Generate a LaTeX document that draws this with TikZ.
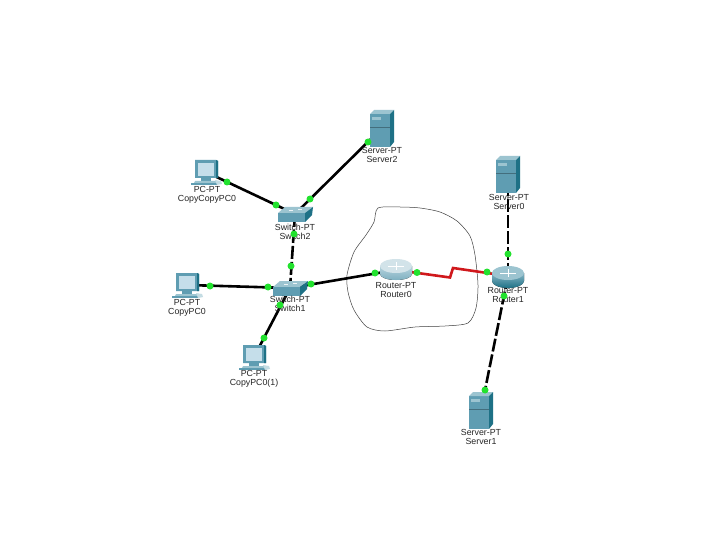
\documentclass[tikz,border=0pt]{standalone}
\usepackage{fontspec}
\setmainfont{Liberation Sans}
\definecolor{tealm}{HTML}{5F9DB2}
\definecolor{teald}{HTML}{1E7186}
\definecolor{teall}{HTML}{9CC4D0}
\definecolor{screenc}{HTML}{C5DEEA}
\definecolor{grn}{HTML}{22E22E}
\definecolor{linkred}{HTML}{D0181C}
\tikzset{
  x=1pt,y=-1pt,
  device/.style={inner sep=0pt,minimum size=1pt},
  lbl/.style={align=center,font=\fontsize{8.8}{9.6}\selectfont,text=black!85,inner sep=0pt},
  link/.style={line width=2.6pt,black},
  dlink/.style={link,dash pattern=on 13pt off 3pt},
  serial/.style={line width=2.6pt,linkred},
  dot/.style={circle,fill=grn,inner sep=0pt,minimum size=7pt},
  cloudline/.style={line width=0.5pt,black!75},
  pcicon/.pic={
    \fill[tealm] (-11,-12) -- (10,-12) -- (12,-11) -- (12,6) -- (-11,6) -- cycle;
    \fill[teald] (10,-12) -- (12,-11) -- (12,6) -- (10,6) -- cycle;
    \fill[screenc] (-8,-9) rectangle (8,4);
    \fill[tealm] (-5,6) rectangle (5,9);
    \fill[teall] (-11,9) -- (10,9) -- (12,11) -- (-12,11) -- cycle;
    \fill[tealm] (-15,11) -- (12,11) -- (12,13) -- (-15,13) -- cycle;
    \fill[teall!60] (9,8) -- (15,9) -- (16,12) -- (11,13) -- cycle;
  },
  servericon/.pic={
    \fill[tealm] (-12,-14) rectangle (8,19);
    \fill[teall] (-12,-14) -- (-8,-18) -- (12,-18) -- (8,-14) -- cycle;
    \fill[teald] (8,-14) -- (12,-18) -- (12,14) -- (8,19) -- cycle;
    \fill[teall] (-10,-11) rectangle (-1,-8);
    \draw[tealm!70!black,line width=.3pt] (-12,-1) -- (8,-1);
  },
  switchicon/.pic={
    \fill[teall] (-17,-1) -- (-10,-7) -- (18,-7) -- (10,-1) -- cycle;
    \fill[tealm] (-17,-1) rectangle (10,8);
    \fill[teald] (10,-1) -- (18,-7) -- (17,1) -- (10,8) -- cycle;
    \fill[white!80!teall] (-6,-4) rectangle (-2,-3);
    \fill[white!80!teall] (3,-5) rectangle (7,-4);
  },
  routericonA/.pic={
    \fill[top color=tealm!45!white,bottom color=tealm!80!white] (-16,-4) -- (-16,4) arc[start angle=180,end angle=0,x radius=16,y radius=6] -- (16,-4) -- cycle;
    \fill[white!72!tealm] (0,-4) ellipse[x radius=16,y radius=7];
    \draw[white,line width=.6pt] (-8,-4) -- (8,-4) (0,-8) -- (0,0);
  },
  routericonB/.pic={
    \fill[top color=tealm!75!white,bottom color=teald] (-16,-3) -- (-16,5) arc[start angle=180,end angle=0,x radius=16,y radius=7] -- (16,-3) -- cycle;
    \fill[teall] (0,-3) ellipse[x radius=16,y radius=7];
    \draw[white,line width=.6pt] (-8,-3) -- (8,-3) (0,-7) -- (0,1);
  },
}
\begin{document}
\begin{tikzpicture}
\useasboundingbox (0,0) rectangle (720,540);
\fill[white] (0,0) rectangle (720,540);
% device anchors
\node[device] (pcA) at (206,172) {};
\node[device] (pcB) at (187,285) {};
\node[device] (pcC) at (254,357) {};
\node[device] (swB) at (295,214) {};
\node[device] (swA) at (290,288) {};
\node[device] (rtA) at (396,270) {};
\node[device] (rtB) at (508,276) {};
\node[device] (srvB) at (382,128) {};
\node[device] (srvA) at (508,174) {};
\node[device] (srvC) at (481,410) {};
\coordinate (zigA) at (450,277.5);
\coordinate (zigB) at (453,268);
% hand-drawn outline
\draw[cloudline] plot[smooth cycle,tension=.45] coordinates {
 (378,208) (400,207) (420,208) (440,212) (457,221) (470,236) (475,255) (478,285)
 (476,308) (468,323) (445,326) (415,327) (385,331) (367,327) (354,310) (348,292)
 (347,275) (354,252) (366,235) (374,222)};
% connectors
\draw[link] (pcA.center) -- (swB.center);
\draw[link] (swB.center) -- (srvB.center);
\draw[dlink] (swB.center) -- (swA.center);
\draw[link] (pcB.center) -- (swA.center);
\draw[link] (pcC.center) -- (swA.center);
\draw[link] (swA.center) -- (rtA.center);
\draw[serial] (rtA.center) -- (zigA) -- (zigB) -- (rtB.center);
\draw[dlink] (rtB.center) -- (srvA.center);
\draw[dlink] (rtB.center) -- (srvC.center);
% icons
\pic at (pcA) {pcicon};
\pic at (pcB) {pcicon};
\pic at (pcC) {pcicon};
\pic at (swB) {switchicon};
\pic at (swA) {switchicon};
\pic at (rtA) {routericonA};
\pic at (rtB) {routericonB};
\pic at (srvB) {servericon};
\pic at (srvA) {servericon};
\pic at (srvC) {servericon};
% labels
\node[lbl] (lpcA) at (207,195) {PC-PT\\CopyCopyPC0};
\node[lbl] (lpcB) at (187,308) {PC-PT\\CopyPC0};
\node[lbl] (lpcC) at (254,379) {PC-PT\\CopyPC0(1)};
\node[lbl] (lswB) at (295,232) {Switch-PT\\Switch2};
\node[lbl] (lswA) at (290,304) {Switch-PT\\Switch1};
\node[lbl] (lrtA) at (396,290) {Router-PT\\Router0};
\node[lbl] (lrtB) at (508,295) {Router-PT\\Router1};
\node[lbl] (lsrvB) at (382,155) {Server-PT\\Server2};
\node[lbl] (lsrvA) at (509,202) {Server-PT\\Server0};
\node[lbl] (lsrvC) at (481,437) {Server-PT\\Server1};
% link lights
\node[dot] (d1) at (227,182) {};
\node[dot] (d2) at (276,205) {};
\node[dot] (d3) at (310,199) {};
\node[dot] (d4) at (368,142) {};
\node[dot] (d5) at (294,234) {};
\node[dot] (d6) at (291,266) {};
\node[dot] (d7) at (210,286) {};
\node[dot] (d8) at (268,287) {};
\node[dot] (d9) at (311,284) {};
\node[dot] (d10) at (280,305) {};
\node[dot] (d11) at (264,338) {};
\node[dot] (d12) at (375,273) {};
\node[dot] (d13) at (417,272.5) {};
\node[dot] (d14) at (487,272) {};
\node[dot] (d15) at (508,254) {};
\node[dot] (d16) at (504,296) {};
\node[dot] (d17) at (485,390) {};
\end{tikzpicture}
\end{document}
